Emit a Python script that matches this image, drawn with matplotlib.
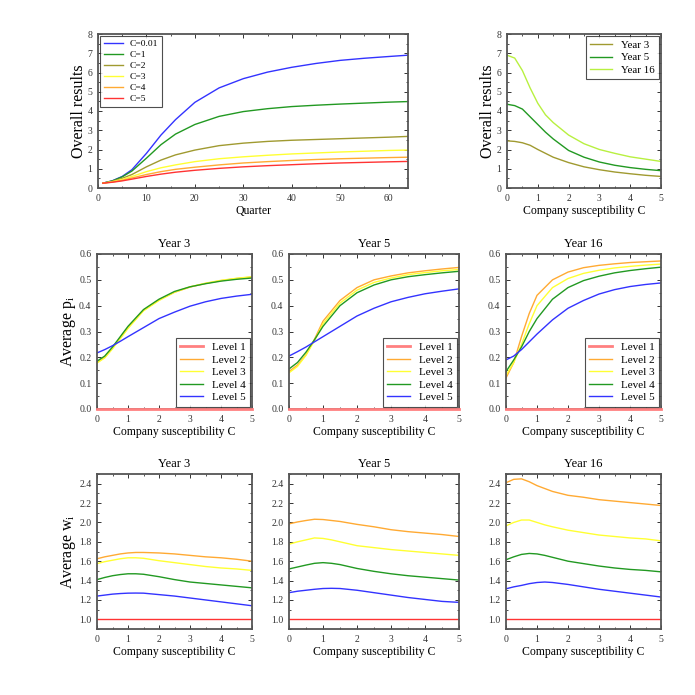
import matplotlib
matplotlib.use('Agg')
import matplotlib.pyplot as plt
from matplotlib.ticker import MultipleLocator
import numpy as np

plt.rcParams['font.family'] = ['Liberation Serif', 'DejaVu Serif']
plt.rcParams['mathtext.fontset'] = 'stix'

# ---- data: overall results vs quarter ----
quarters = [1, 3, 5, 7, 10, 13, 16, 20, 25, 30, 35, 40, 45, 50, 55, 60, 64]
res_c001 = [0.25, 0.38, 0.60, 0.95, 1.80, 2.75, 3.55, 4.45, 5.20, 5.68, 6.02, 6.27, 6.47, 6.63, 6.74, 6.83, 6.90]
res_c1 = [0.25, 0.37, 0.58, 0.88, 1.55, 2.25, 2.80, 3.30, 3.72, 3.97, 4.12, 4.23, 4.30, 4.36, 4.41, 4.46, 4.49]
res_c2 = [0.25, 0.35, 0.50, 0.70, 1.10, 1.45, 1.72, 1.97, 2.20, 2.33, 2.42, 2.48, 2.52, 2.56, 2.60, 2.64, 2.68]
res_c3 = [0.25, 0.33, 0.45, 0.60, 0.85, 1.05, 1.20, 1.37, 1.52, 1.62, 1.70, 1.77, 1.82, 1.87, 1.91, 1.95, 1.97]
res_c4 = [0.25, 0.31, 0.40, 0.52, 0.70, 0.85, 0.97, 1.08, 1.20, 1.30, 1.37, 1.43, 1.48, 1.52, 1.55, 1.58, 1.60]
res_c5 = [0.25, 0.30, 0.37, 0.46, 0.60, 0.72, 0.82, 0.92, 1.02, 1.10, 1.16, 1.21, 1.26, 1.30, 1.33, 1.36, 1.38]
c_labels = ['C=0.01', 'C=1', 'C=2', 'C=3', 'C=4', 'C=5']

# ---- data: overall results vs susceptibility ----
c_top = [0, 0.25, 0.5, 0.75, 1.0, 1.25, 1.5, 2.0, 2.5, 3.0, 3.5, 4.0, 4.5, 5.0]
res_y3 = [2.45, 2.42, 2.35, 2.22, 2.00, 1.80, 1.60, 1.32, 1.10, 0.95, 0.83, 0.74, 0.66, 0.60]
res_y5 = [4.35, 4.28, 4.10, 3.70, 3.30, 2.90, 2.55, 1.95, 1.60, 1.35, 1.18, 1.06, 0.97, 0.90]
res_y16 = [6.90, 6.75, 6.10, 5.20, 4.40, 3.80, 3.40, 2.75, 2.30, 2.00, 1.80, 1.62, 1.50, 1.38]

# ---- data: average p_i ----
c_p = [0, 0.25, 0.5, 0.75, 1.0, 1.5, 2.0, 2.5, 3.0, 3.5, 4.0, 4.5, 5.0]
p_y3_l2 = [0.180, 0.200, 0.235, 0.275, 0.315, 0.382, 0.422, 0.452, 0.472, 0.486, 0.497, 0.505, 0.511]
p_y3_l3 = [0.178, 0.198, 0.233, 0.272, 0.312, 0.380, 0.420, 0.452, 0.473, 0.487, 0.498, 0.506, 0.512]
p_y3_l4 = [0.185, 0.205, 0.240, 0.280, 0.320, 0.385, 0.425, 0.455, 0.473, 0.485, 0.495, 0.502, 0.507]
p_y3_l5 = [0.217, 0.230, 0.245, 0.262, 0.280, 0.315, 0.350, 0.375, 0.398, 0.415, 0.428, 0.437, 0.444]

p_y5_l2 = [0.145, 0.170, 0.210, 0.270, 0.340, 0.420, 0.470, 0.500, 0.515, 0.527, 0.535, 0.542, 0.548]
p_y5_l3 = [0.140, 0.165, 0.208, 0.265, 0.330, 0.410, 0.460, 0.490, 0.507, 0.520, 0.528, 0.535, 0.540]
p_y5_l4 = [0.155, 0.180, 0.220, 0.268, 0.320, 0.400, 0.450, 0.480, 0.500, 0.512, 0.520, 0.527, 0.533]
p_y5_l5 = [0.205, 0.222, 0.240, 0.260, 0.280, 0.320, 0.360, 0.390, 0.415, 0.432, 0.446, 0.456, 0.465]

p_y16_l2 = [0.120, 0.180, 0.280, 0.370, 0.440, 0.500, 0.530, 0.547, 0.556, 0.562, 0.567, 0.570, 0.573]
p_y16_l3 = [0.130, 0.180, 0.250, 0.330, 0.400, 0.470, 0.505, 0.525, 0.537, 0.546, 0.552, 0.557, 0.561]
p_y16_l4 = [0.145, 0.190, 0.240, 0.300, 0.350, 0.425, 0.470, 0.497, 0.514, 0.527, 0.536, 0.543, 0.549]
p_y16_l5 = [0.190, 0.205, 0.230, 0.260, 0.290, 0.345, 0.390, 0.420, 0.445, 0.462, 0.474, 0.482, 0.488]

# ---- data: average w_i ----
c_w = [0, 0.25, 0.5, 0.75, 1.0, 1.25, 1.5, 2.0, 2.5, 3.0, 3.5, 4.0, 4.5, 5.0]
w_y3_l2 = [1.625, 1.645, 1.660, 1.675, 1.685, 1.690, 1.690, 1.685, 1.675, 1.660, 1.645, 1.635, 1.620, 1.600]
w_y3_l3 = [1.575, 1.595, 1.610, 1.625, 1.635, 1.635, 1.630, 1.605, 1.585, 1.565, 1.545, 1.530, 1.520, 1.505]
w_y3_l4 = [1.410, 1.432, 1.450, 1.462, 1.470, 1.470, 1.465, 1.440, 1.410, 1.385, 1.370, 1.355, 1.340, 1.325]
w_y3_l5 = [1.240, 1.250, 1.260, 1.266, 1.270, 1.271, 1.270, 1.255, 1.240, 1.220, 1.200, 1.180, 1.160, 1.140]

w_y5_l2 = [1.985, 2.005, 2.020, 2.033, 2.030, 2.020, 2.010, 1.980, 1.955, 1.925, 1.905, 1.890, 1.875, 1.855]
w_y5_l3 = [1.775, 1.800, 1.820, 1.840, 1.835, 1.820, 1.800, 1.760, 1.740, 1.720, 1.705, 1.690, 1.675, 1.660]
w_y5_l4 = [1.520, 1.540, 1.560, 1.578, 1.585, 1.578, 1.565, 1.525, 1.495, 1.470, 1.450, 1.435, 1.420, 1.405]
w_y5_l5 = [1.275, 1.290, 1.300, 1.310, 1.318, 1.320, 1.318, 1.300, 1.275, 1.250, 1.225, 1.205, 1.185, 1.175]

w_y16_l2 = [2.410, 2.445, 2.450, 2.420, 2.380, 2.350, 2.320, 2.280, 2.260, 2.235, 2.220, 2.205, 2.190, 2.175]
w_y16_l3 = [1.965, 2.000, 2.025, 2.025, 2.000, 1.975, 1.955, 1.920, 1.895, 1.870, 1.855, 1.840, 1.830, 1.810]
w_y16_l4 = [1.615, 1.645, 1.670, 1.680, 1.675, 1.660, 1.640, 1.600, 1.575, 1.550, 1.530, 1.515, 1.505, 1.490]
w_y16_l5 = [1.315, 1.335, 1.350, 1.368, 1.380, 1.385, 1.380, 1.360, 1.335, 1.310, 1.290, 1.270, 1.250, 1.230]

levels = ['Level 1', 'Level 2', 'Level 3', 'Level 4', 'Level 5']
years = ['Year 3', 'Year 5', 'Year 16']

BLUE = '#3333ff'
GREEN = '#229922'
OLIVE = '#a09a30'
YELLOW = '#ffff33'
ORANGE = '#ffaa33'
RED = '#ff3333'
PINK = '#ff8080'
LIME = '#b8f040'
SPINE = '#555555'

fig = plt.figure(figsize=(6.95, 6.95), dpi=100)
W = 695.0


def box(l, t, r, b):
    return [l / W, 1 - b / W, (r - l) / W, (b - t) / W]


def style(ax):
    for s in ax.spines.values():
        s.set_color(SPINE)
        s.set_linewidth(1.3)
    ax.tick_params(which='both', direction='in', top=True, right=True,
                   labelsize=7, colors='#333333', pad=4)
    ax.tick_params(which='major', length=3, width=0.7)
    ax.tick_params(which='minor', length=1.5, width=0.6)


def legend(ax, loc, size):
    lg = ax.legend(loc=loc, fontsize=size, frameon=True, fancybox=False,
                   edgecolor='#222222', handlelength=2.0, borderpad=0.4,
                   labelspacing=0.25, borderaxespad=0.2)
    lg.get_frame().set_linewidth(0.8)


# top left
ax = fig.add_axes(box(98, 34, 408, 188))
for vals, col, lab in zip([res_c001, res_c1, res_c2, res_c3, res_c4, res_c5],
                          [BLUE, GREEN, OLIVE, YELLOW, ORANGE, RED], c_labels):
    ax.plot(quarters, vals, color=col, lw=1.0, label=lab)
ax.set_xlim(0, 64)
ax.set_ylim(0, 8)
ax.xaxis.set_major_locator(MultipleLocator(10))
ax.xaxis.set_minor_locator(MultipleLocator(5))
ax.yaxis.set_major_locator(MultipleLocator(1))
ax.yaxis.set_minor_locator(MultipleLocator(0.5))
ax.set_xlabel('Quarter', fontsize=8.5, labelpad=1.5)
ax.set_ylabel('Overall results', fontsize=11.5, labelpad=0.5)
style(ax)
legend(ax, 'upper left', 6.8)

# top right
ax = fig.add_axes(box(507, 34, 661, 188))
for vals, col, lab in zip([res_y3, res_y5, res_y16], [OLIVE, GREEN, LIME], years):
    ax.plot(c_top, vals, color=col, lw=1.0, label=lab)
ax.set_xlim(0, 5)
ax.set_ylim(0, 8)
ax.xaxis.set_major_locator(MultipleLocator(1))
ax.xaxis.set_minor_locator(MultipleLocator(0.5))
ax.yaxis.set_major_locator(MultipleLocator(1))
ax.yaxis.set_minor_locator(MultipleLocator(0.5))
ax.set_xlabel('Company susceptibility C', fontsize=8.5, labelpad=1.5)
ax.set_ylabel('Overall results', fontsize=11.5, labelpad=0.5)
style(ax)
legend(ax, 'upper right', 7.8)

cols = [(97, 252), (289, 459), (506, 661)]

# middle row: average p_i
p_sets = [[p_y3_l2, p_y3_l3, p_y3_l4, p_y3_l5],
          [p_y5_l2, p_y5_l3, p_y5_l4, p_y5_l5],
          [p_y16_l2, p_y16_l3, p_y16_l4, p_y16_l5]]
for k, (l, r) in enumerate(cols):
    ax = fig.add_axes(box(l, 254, r, 409))
    ax.plot(c_p, np.zeros(len(c_p)), color=PINK, lw=2.0, label=levels[0], clip_on=False, zorder=5)
    for vals, col, lab in zip(p_sets[k], [ORANGE, YELLOW, GREEN, BLUE], levels[1:]):
        ax.plot(c_p, vals, color=col, lw=1.0, label=lab)
    ax.set_xlim(0, 5)
    ax.set_ylim(0, 0.6)
    ax.xaxis.set_major_locator(MultipleLocator(1))
    ax.xaxis.set_minor_locator(MultipleLocator(0.5))
    ax.yaxis.set_major_locator(MultipleLocator(0.1))
    ax.yaxis.set_minor_locator(MultipleLocator(0.05))
    ax.yaxis.set_major_formatter('{x:.1f}')
    ax.set_title(years[k], fontsize=9, pad=5)
    ax.set_xlabel('Company susceptibility C', fontsize=8.5, labelpad=1.5)
    if k == 0:
        ax.set_ylabel(r'Average $\mathregular{p_i}$', fontsize=11.5, labelpad=0.5)
    style(ax)
    legend(ax, 'lower right', 8)

# bottom row: average w_i
w_sets = [[w_y3_l2, w_y3_l3, w_y3_l4, w_y3_l5],
          [w_y5_l2, w_y5_l3, w_y5_l4, w_y5_l5],
          [w_y16_l2, w_y16_l3, w_y16_l4, w_y16_l5]]
for k, (l, r) in enumerate(cols):
    ax = fig.add_axes(box(l, 474, r, 629))
    ax.plot(c_w, np.ones(len(c_w)), color=RED, lw=1.0)
    for vals, col in zip(w_sets[k], [ORANGE, YELLOW, GREEN, BLUE]):
        ax.plot(c_w, vals, color=col, lw=1.0)
    ax.set_xlim(0, 5)
    ax.set_ylim(0.9, 2.5)
    ax.xaxis.set_major_locator(MultipleLocator(1))
    ax.xaxis.set_minor_locator(MultipleLocator(0.5))
    ax.set_yticks([1.0, 1.2, 1.4, 1.6, 1.8, 2.0, 2.2, 2.4])
    ax.yaxis.set_minor_locator(MultipleLocator(0.1))
    ax.yaxis.set_major_formatter('{x:.1f}')
    ax.set_title(years[k], fontsize=9, pad=5)
    ax.set_xlabel('Company susceptibility C', fontsize=8.5, labelpad=1.5)
    if k == 0:
        ax.set_ylabel(r'Average $\mathregular{w_i}$', fontsize=11.5, labelpad=0.5)
    style(ax)

fig.savefig('out.png', dpi=100)
